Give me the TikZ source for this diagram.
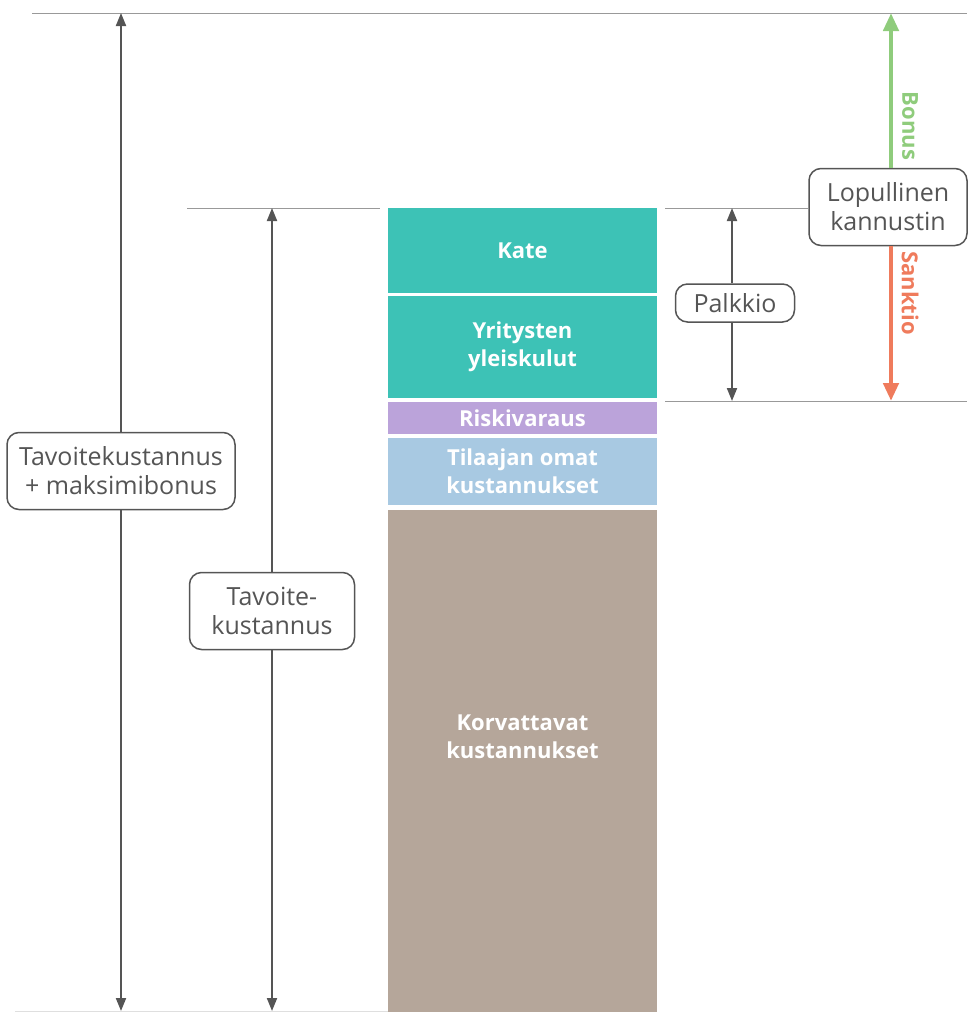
\documentclass[tikz,border=0pt]{standalone}
\usepackage{fontspec}
\setmainfont{Open Sans}
\usetikzlibrary{arrows.meta}
\definecolor{kateteal}{HTML}{3DC2B6}
\definecolor{riskpurple}{HTML}{BBA3DA}
\definecolor{ownblue}{HTML}{A8C9E2}
\definecolor{costbrown}{HTML}{B5A69A}
\definecolor{bonusgreen}{HTML}{8FCC7C}
\definecolor{sanctorange}{HTML}{EF7B5C}
\definecolor{inkgray}{HTML}{555555}
\begin{document}
\begin{tikzpicture}[x=1pt, y=-1pt,
        seg/.style={rectangle, minimum width=269pt, inner sep=0pt, text=white, font=\bfseries\fontsize{22}{28}\selectfont, align=center},
        segtext/.style={text=white, font=\bfseries\fontsize{22}{28}\selectfont, align=center},
        tag/.style={rectangle, rounded corners=12pt, draw=inkgray, line width=1.5pt, fill=white, font=\fontsize{25}{29}\selectfont, text=inkgray, align=center, inner sep=0pt},
        guide/.style={gray!80, line width=1pt},
        dim/.style={->, >={Stealth[length=13pt,width=10pt,inset=0pt]}, line width=2pt, inkgray},
        incentive/.style={->, >={Stealth[length=18pt,width=15pt,inset=0pt]}, line width=4.5pt},
        sidetext/.style={rotate=-90, font=\bfseries\fontsize{22}{26}\selectfont}
    ]
    \useasboundingbox (0,0) rectangle (967,1012);
    % guide lines
    \draw[guide] (32,13) -- (967,13);
    \draw[guide] (187,208) -- (380,208);
    \draw[guide] (665,208) -- (808,208);
    \draw[guide] (665,401) -- (967,401);
    \draw[gray!25, line width=1pt] (15,1011) -- (388,1011);
    % cost bar
    \node[seg, fill=kateteal, minimum height=85pt] (kate) at (522.5,250.5) {Kate};
    \node[seg, fill=kateteal, minimum height=102pt] (yleis) at (522.5,347) {Yritysten\\yleiskulut};
    \node[seg, fill=riskpurple, minimum height=32pt] (riski) at (522.5,418) {Riskivaraus};
    \node[seg, fill=ownblue, minimum height=67pt] (tilaaja) at (522.5,471.5) {Tilaajan omat\\kustannukset};
    \node[seg, fill=costbrown, minimum height=502pt] (korv) at (522.5,761) {};
    \node[segtext] (korvtext) at (522.5,737) {Korvattavat\\kustannukset};
    % labels
    \node[tag, minimum width=228pt, minimum height=77pt] (maxb) at (121,471) {Tavoitekustannus\\+ maksimibonus};
    \node[tag, minimum width=165pt, minimum height=77pt] (tavo) at (272,611) {Tavoite-\\kustannus};
    \node[tag, minimum width=119pt, minimum height=38pt] (palk) at (735,303) {Palkkio};
    \node[tag, minimum width=158pt, minimum height=77pt] (lopu) at (888,207) {Lopullinen\\kannustin};
    % arrow ends
    \coordinate (maxtop) at (121,13);
    \coordinate (maxbot) at (121,1011);
    \coordinate (tavtop) at (272,208);
    \coordinate (tavbot) at (272,1011);
    \coordinate (palktop) at (732,208);
    \coordinate (palkbot) at (732,401);
    \coordinate (bonustop) at (891,13);
    \coordinate (sanctbot) at (891,401);
    \draw[dim] (maxb) -- (maxtop);
    \draw[dim] (maxb) -- (maxbot);
    \draw[dim] (tavo) -- (tavtop);
    \draw[dim] (tavo) -- (tavbot);
    \draw[dim] (palk.north -| palktop) -- (palktop);
    \draw[dim] (palk.south -| palkbot) -- (palkbot);
    \draw[incentive, bonusgreen] (lopu.north -| bonustop) -- (bonustop);
    \draw[incentive, sanctorange] (lopu.south -| sanctbot) -- (sanctbot);
    \node[sidetext, text=bonusgreen] (bonus) at (910,126) {Bonus};
    \node[sidetext, text=sanctorange] (sanktio) at (910,293) {Sanktio};
\end{tikzpicture}
\end{document}
